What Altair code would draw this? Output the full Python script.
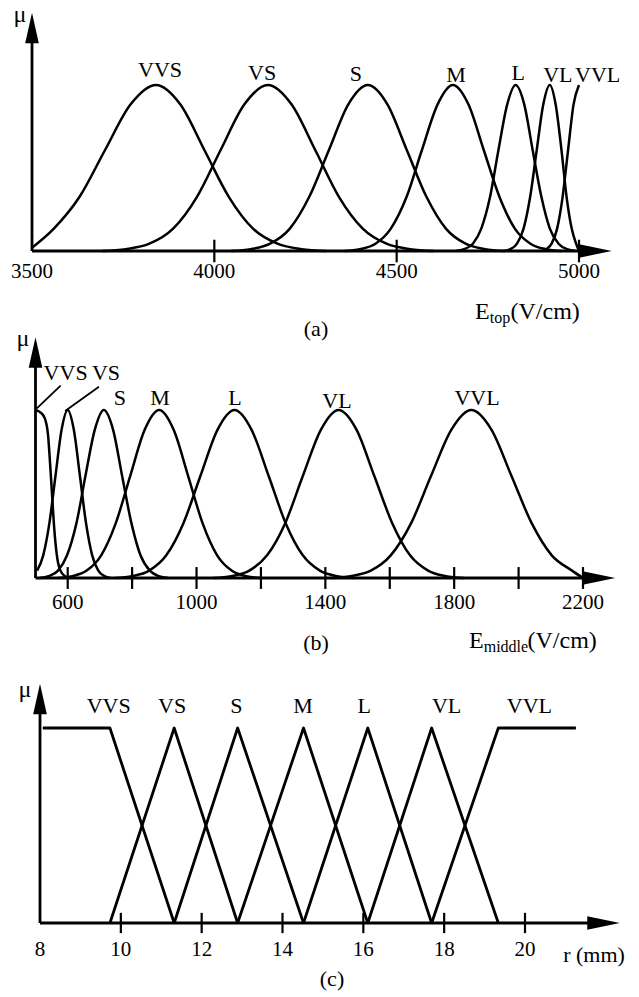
import altair as alt
import pandas as pd

W, H = 639, 997
FONT = "'Liberation Serif', 'Times New Roman', Times, serif"

# ---------------- data ----------------
NAMES = ["VVS", "VS", "S", "M", "L", "VL", "VVL"]
BELL_MU = [0, 0.011, 0.044, 0.135, 0.325, 0.607, 0.882, 1, 0.882, 0.607, 0.325, 0.135, 0.044, 0.011, 0]

# (a) E_top (V/cm)
A_VVS_X = [3500, 3560, 3630, 3700, 3770, 3840, 3907, 3973, 4040, 4106, 4173, 4239, 4306]
A_VVS_MU = [0.02, 0.135, 0.325, 0.607, 0.882, 1, 0.882, 0.607, 0.325, 0.135, 0.044, 0.011, 0]
A_VS_X = [3692, 3757, 3822, 3887, 3952, 4017, 4082, 4147, 4212, 4277, 4342, 4407, 4472, 4537, 4602]
A_S_X = [4046, 4100, 4153, 4207, 4260, 4314, 4367, 4421, 4475, 4528, 4582, 4635, 4689, 4742, 4796]
A_M_X = [4357, 4399, 4442, 4484, 4527, 4569, 4612, 4654, 4697, 4739, 4782, 4824, 4867, 4909, 4952]
A_L_X = [4662, 4685, 4709, 4732, 4756, 4779, 4803, 4826, 4850, 4873, 4897, 4920, 4944, 4967, 4991]
A_VL_X = [4794, 4812, 4830, 4848, 4866, 4884, 4902, 4920, 4936, 4952, 4966, 4980, 4992, 5000]
A_VL_MU = [0, 0.011, 0.044, 0.135, 0.325, 0.607, 0.882, 1, 0.882, 0.607, 0.325, 0.135, 0.044, 0]
A_VVL_X = [4895, 4910, 4925, 4940, 4955, 4970, 4985, 5000]
A_VVL_MU = [0, 0.011, 0.044, 0.135, 0.325, 0.607, 0.882, 1]
A_TICKS = [4000, 4500, 5000]
A_TICK_LABELS = [3500, 4000, 4500, 5000]
A_LAB_X = [3851, 4131, 4388, 4663, 4833, 4942, 5051]
A_LAB_MU = [1.089, 1.075, 1.066, 1.060, 1.072, 1.060, 1.060]

# (b) E_middle (V/cm)
B_VVS_X = [500, 516, 529, 539, 545, 551, 558, 566, 576, 592, 607]
B_VVS_MU = [1, 0.985, 0.95, 0.85, 0.69, 0.51, 0.30, 0.14, 0.05, 0.01, 0]
B_VS_X = [505, 524, 543, 562, 581, 600, 619, 638, 657, 676, 695, 714, 733]
B_VS_MU = [0.044, 0.135, 0.325, 0.607, 0.882, 1, 0.882, 0.607, 0.325, 0.135, 0.044, 0.011, 0]
B_S_X = [512, 541, 570, 598, 627, 655, 684, 712, 741, 769, 798, 826, 855, 883, 912]
B_M_X = [569, 614, 659, 704, 749, 794, 839, 884, 929, 974, 1019, 1064, 1109, 1154, 1199]
B_L_X = [747, 800, 853, 906, 959, 1012, 1065, 1118, 1171, 1224, 1277, 1330, 1383, 1436, 1489]
B_VL_X = [1053, 1108, 1164, 1219, 1275, 1330, 1386, 1441, 1497, 1552, 1608, 1663, 1719, 1774, 1830]
B_VVL_X = [1416, 1478, 1541, 1603, 1666, 1728, 1791, 1853, 1916, 1978, 2041, 2103, 2166, 2200]
B_VVL_MU = [0, 0.011, 0.044, 0.135, 0.325, 0.607, 0.882, 1, 0.882, 0.607, 0.325, 0.135, 0.044, 0]
B_TICKS = [600, 800, 1000, 1200, 1400, 1600, 1800, 2000, 2200]
B_TICK_LABELS = [600, 1000, 1400, 1800, 2200]
B_LAB_X = [593.5, 719, 762, 886.5, 1119.5, 1436, 1871]
B_LAB_MU = [1.22, 1.22, 1.071, 1.071, 1.071, 1.054, 1.071]
B_LEADER_X = [578, 697]
B_LEADER_MU = [1.145, 1.139]
B_LEADER_X2 = [504, 592]
B_LEADER_MU2 = [1.010, 0.994]

# (c) r (mm)
C_VVS_X = [8.07, 9.73, 11.32]
C_VVS_MU = [1, 1, 0]
C_VS_X = [9.73, 11.32, 12.89]
C_S_X = [11.32, 12.89, 14.52]
C_M_X = [12.89, 14.52, 16.11]
C_L_X = [14.52, 16.11, 17.69]
C_VL_X = [16.11, 17.69, 19.34]
C_TRI_MU = [0, 1, 0]
C_VVL_X = [17.69, 19.34, 21.26]
C_VVL_MU = [0, 1, 1]
C_TICKS = [10, 12, 14, 16, 18, 20]
C_TICK_LABELS = [8, 10, 12, 14, 16, 18, 20]
C_LAB_X = [9.70, 11.27, 12.86, 14.51, 16.02, 18.06, 20.11]
C_LAB_MU = [1.112] * 7


# ---------------- helpers ----------------
def lin_domain(v0, p0, v1, p1):
    k = (v1 - v0) / (p1 - p0)
    return [v0 - p0 * k, v0 + (W - p0) * k]


def y_domain(base_px, one_px):
    k = 1.0 / (base_px - one_px)
    return [(base_px - H) * k, base_px * k]


def curves_df(xs_list, mus_list):
    frames = []
    for name, xs, mus in zip(NAMES, xs_list, mus_list):
        frames.append(pd.DataFrame({"x": xs, "mu": mus, "name": name}))
    return pd.concat(frames, ignore_index=True)


def ptext(text, x, y, size, align="center", baseline="middle"):
    return alt.Chart(pd.DataFrame({"t": [text]})).mark_text(
        font=FONT, fontSize=size, align=align, baseline=baseline, color="black"
    ).encode(x=alt.value(x), y=alt.value(y), text="t:N")


ARROW_R = "M-1,-0.41L1,0L-1,0.41Z"
ARROW_U = "M-0.45,1L0,-1L0.45,1Z"


def panel(cdf, interp, csw, xdom, ydom, x0, x_arrow, y_arrow, ticks, tick_half,
          tl_vals, tl_mu, lab_x, lab_mu, lab_size, extra):
    xs = alt.Scale(domain=xdom, nice=False, zero=False)
    ys = alt.Scale(domain=ydom, nice=False, zero=False)

    def X(f):
        return alt.X(f, type="quantitative", scale=xs, axis=None)

    def Y(f):
        return alt.Y(f, type="quantitative", scale=ys, axis=None)

    layers = []
    layers.append(
        alt.Chart(cdf).mark_line(interpolate=interp, color="black", strokeWidth=csw,
                                 strokeJoin="round", strokeCap="butt")
        .encode(x=X("x"), y=Y("mu"), detail="name:N")
    )
    layers.append(
        alt.Chart(pd.DataFrame({"x": [x0], "x2": [x_arrow], "mu": [0]}))
        .mark_rule(color="black", strokeWidth=2.8)
        .encode(x=X("x"), x2="x2:Q", y=Y("mu"))
    )
    layers.append(
        alt.Chart(pd.DataFrame({"x": [x0], "mu": [0], "mu2": [y_arrow]}))
        .mark_rule(color="black", strokeWidth=2.8)
        .encode(x=X("x"), y=Y("mu"), y2="mu2:Q")
    )
    layers.append(
        alt.Chart(pd.DataFrame({"x": ticks, "lo": [-tick_half] * len(ticks), "hi": [tick_half] * len(ticks)}))
        .mark_rule(color="black", strokeWidth=2.2)
        .encode(x=X("x"), y=Y("lo"), y2="hi:Q")
    )
    layers.append(
        alt.Chart(pd.DataFrame({"x": [x_arrow], "mu": [0]}))
        .mark_point(shape=ARROW_R, size=1060, filled=True, color="black", opacity=1, strokeWidth=0)
        .encode(x=X("x"), y=Y("mu"))
    )
    layers.append(
        alt.Chart(pd.DataFrame({"x": [x0], "mu": [y_arrow]}))
        .mark_point(shape=ARROW_U, size=920, filled=True, color="black", opacity=1, strokeWidth=0)
        .encode(x=X("x"), y=Y("mu"))
    )
    layers.append(
        alt.Chart(pd.DataFrame({"x": tl_vals, "mu": [tl_mu] * len(tl_vals),
                                "label": [str(v) for v in tl_vals]}))
        .mark_text(font=FONT, fontSize=21, baseline="middle", align="center", color="black")
        .encode(x=X("x"), y=Y("mu"), text="label:N")
    )
    layers.append(
        alt.Chart(pd.DataFrame({"x": lab_x, "mu": lab_mu, "name": NAMES}))
        .mark_text(font=FONT, fontSize=lab_size, baseline="middle", align="center", color="black")
        .encode(x=X("x"), y=Y("mu"), text="name:N")
    )
    for e in extra:
        if isinstance(e, tuple):
            df = pd.DataFrame({"x": e[0], "mu": e[1], "x2": e[2], "mu2": e[3]})
            layers.append(
                alt.Chart(df).mark_rule(color="black", strokeWidth=1.8)
                .encode(x=X("x"), y=Y("mu"), x2="x2:Q", y2="mu2:Q")
            )
        else:
            layers.append(e)
    return alt.layer(*layers)


# ---------------- panel (a) ----------------
a_df = curves_df(
    [A_VVS_X, A_VS_X, A_S_X, A_M_X, A_L_X, A_VL_X, A_VVL_X],
    [A_VVS_MU, BELL_MU, BELL_MU, BELL_MU, BELL_MU, A_VL_MU, A_VVL_MU],
)
xa = lin_domain(3500, 32, 5000, 579)
ya = y_domain(251, 85)
ka = (xa[1] - xa[0]) / W
pa = panel(
    a_df, "monotone", 2.5, xa, ya, 3500, xa[0] + 595.5 * ka, (251 - 28) / 166,
    A_TICKS, 0.068, A_TICK_LABELS, -0.1265, A_LAB_X, A_LAB_MU, 22,
    [
        ptext("μ", 20, 22, 24, baseline="alphabetic"),
        ptext("E", 475, 319, 24, align="left", baseline="alphabetic"),
        ptext("top", 489.7, 323, 16, align="left", baseline="alphabetic"),
        ptext("(V/cm)", 510.5, 319, 24, align="left", baseline="alphabetic"),
        ptext("(a)", 316, 329, 22),
    ],
)

# ---------------- panel (b) ----------------
b_df = curves_df(
    [B_VVS_X, B_VS_X, B_S_X, B_M_X, B_L_X, B_VL_X, B_VVL_X],
    [B_VVS_MU, B_VS_MU, BELL_MU, BELL_MU, BELL_MU, BELL_MU, B_VVL_MU],
)
xb = lin_domain(500, 35.5, 2200, 583)
yb = y_domain(578, 410)
kb = (xb[1] - xb[0]) / W
pb = panel(
    b_df, "monotone", 2.5, xb, yb, 500, xb[0] + 599 * kb, (578 - 352.5) / 168,
    B_TICKS, 0.065, B_TICK_LABELS, -0.149, B_LAB_X, B_LAB_MU, 22,
    [
        (B_LEADER_X, B_LEADER_MU, B_LEADER_X2, B_LEADER_MU2),
        ptext("μ", 23, 346, 24, baseline="alphabetic"),
        ptext("E", 469, 648, 24, align="left", baseline="alphabetic"),
        ptext("middle", 483.7, 652, 16, align="left", baseline="alphabetic"),
        ptext("(V/cm)", 527.5, 648, 24, align="left", baseline="alphabetic"),
        ptext("(b)", 316, 643, 22),
    ],
)

# ---------------- panel (c) ----------------
c_df = curves_df(
    [C_VVS_X, C_VS_X, C_S_X, C_M_X, C_L_X, C_VL_X, C_VVL_X],
    [C_VVS_MU, C_TRI_MU, C_TRI_MU, C_TRI_MU, C_TRI_MU, C_TRI_MU, C_VVL_MU],
)
xc = lin_domain(8, 40, 20, 525)
yc = y_domain(923, 728)
kc = (xc[1] - xc[0]) / W
pc = panel(
    c_df, "linear", 2.8, xc, yc, 8, xc[0] + 603.5 * kc, (923 - 699) / 195,
    C_TICKS, 0.052, C_TICK_LABELS, -0.14, C_LAB_X, C_LAB_MU, 22,
    [
        ptext("μ", 25, 697, 24, baseline="alphabetic"),
        ptext("r (mm)", 594, 955, 22),
        ptext("(c)", 332, 979, 22),
    ],
)

chart = (
    alt.layer(pa, pb, pc)
    .resolve_scale(x="independent", y="independent")
    .properties(width=W, height=H, padding=0, autosize=alt.AutoSizeParams(type="none"),
                background="white")
    .configure_view(stroke=None)
)

chart.save("out.html", embed_options={"renderer": "svg", "actions": False})
